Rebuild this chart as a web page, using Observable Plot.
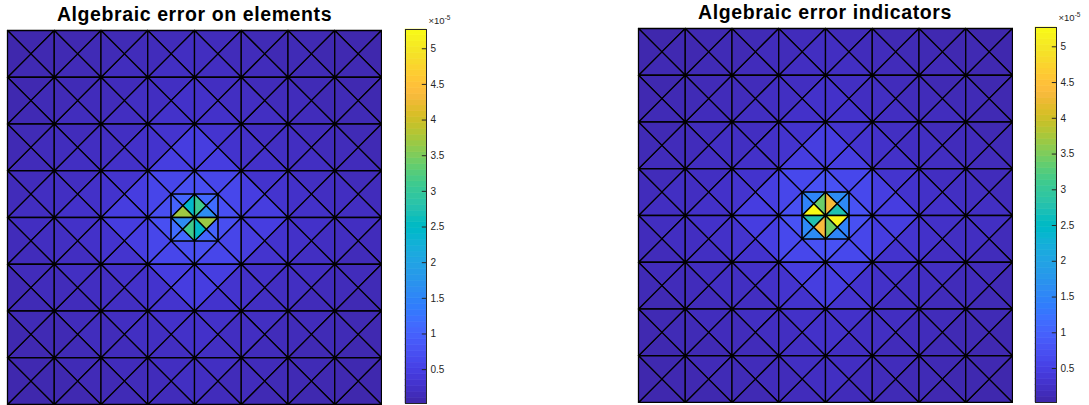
<!DOCTYPE html>
<html>
<head>
<meta charset="utf-8">
<script src="https://cdn.jsdelivr.net/npm/d3@7"></script>
<script src="https://cdn.jsdelivr.net/npm/@observablehq/plot@0.6"></script>
<style>
  html, body { margin: 0; padding: 0; background: #fff; }
  #wrap { position: relative; width: 1089px; height: 405px; overflow: hidden; background: #fff; font-family: "Liberation Sans", Arial, Helvetica, sans-serif; }
  .abs { position: absolute; }
  .title { position: absolute; text-align: center; font-weight: bold; font-size: 19.5px; line-height: 20px; letter-spacing: 0.6px; color: #000; white-space: nowrap; }
  .exp { position: absolute; font-size: 9.5px; line-height: 10px; color: #262626; white-space: nowrap; }
  .exp sup { font-size: 6.5px; vertical-align: 4px; line-height: 0; }
</style>
</head>
<body>
<div id="wrap"></div>
<script>
// ---- colormap (MATLAB parula, 64 entries) ----
const parula = ["#3e26a8","#402ab4","#422ec0","#4332cb","#4537d5","#463cde","#4741e5","#4747eb",
  "#484df0","#4852f4","#4758f8","#465efb","#4563fd","#4269fe","#3e6fff","#3875fe",
  "#327cfc","#2f81fa","#2e87f7","#2d8cf3","#2b91ef","#2797eb","#259be8","#23a0e5",
  "#20a5e3","#1ca9df","#18addb","#12b1d6","#08b5d0","#01b8ca","#02bac3","#0bbdbd",
  "#19bfb6","#24c1ae","#2cc4a7","#31c69f","#37c897","#3fca8e","#4acb84","#57cc7a",
  "#64cd6f","#72cd64","#81cc59","#8fcb4e","#9dc943","#abc739","#b9c431","#c5c22a",
  "#d1bf27","#dcbd29","#e6bb2d","#f0ba36","#f8ba3d","#febe3c","#fec338","#fec934",
  "#fccf30","#fad62d","#f7dc2a","#f5e327","#f5e924","#f6ef20","#f7f51b","#f9fb15"];

// colour limits and colorbar ticks (values x 1e-5)
const cLim = [0.025, 5.27];
const cbTicks = [0.5, 1, 1.5, 2, 2.5, 3, 3.5, 4, 4.5, 5];
const cbExponent = "-5";
const titles = ["Algebraic error on elements", "Algebraic error indicators"];

// mesh: 8 x 8 squares, each cut by both diagonals into triangles [Top, Right, Bottom, Left]
const gridN = 8;
const sides = ["T", "R", "B", "L"];

// per-element error (x 1e-5), rows top -> bottom, columns left -> right, [T,R,B,L]; null = refined
const errElements = [
  [[0.07,0.09,0.10,0.06],[0.09,0.12,0.13,0.10],[0.12,0.15,0.17,0.12],[0.15,0.20,0.21,0.16],[0.16,0.15,0.20,0.19],[0.12,0.11,0.16,0.15],[0.10,0.08,0.12,0.12],[0.07,0.06,0.10,0.09]],
  [[0.09,0.12,0.11,0.08],[0.12,0.16,0.17,0.13],[0.16,0.21,0.20,0.15],[0.21,0.26,0.27,0.20],[0.20,0.21,0.26,0.25],[0.15,0.16,0.21,0.20],[0.12,0.11,0.16,0.16],[0.09,0.08,0.12,0.12]],
  [[0.12,0.16,0.15,0.11],[0.16,0.20,0.21,0.17],[0.21,0.26,0.25,0.20],[0.30,0.46,0.47,0.29],[0.31,0.29,0.46,0.45],[0.20,0.21,0.26,0.25],[0.16,0.15,0.21,0.20],[0.12,0.11,0.16,0.15]],
  [[0.16,0.20,0.19,0.15],[0.20,0.25,0.26,0.21],[0.30,0.46,0.45,0.29],[0.60,null,null,0.58],[0.59,0.61,null,null],[0.29,0.30,0.45,0.46],[0.21,0.20,0.25,0.26],[0.15,0.16,0.20,0.20]],
  [[0.20,0.19,0.16,0.15],[0.25,0.26,0.20,0.21],[0.45,0.46,0.30,0.29],[null,null,0.59,0.60],[null,0.58,0.60,null],[0.46,0.29,0.30,0.45],[0.26,0.20,0.21,0.25],[0.20,0.16,0.15,0.19]],
  [[0.15,0.16,0.12,0.11],[0.21,0.20,0.16,0.15],[0.25,0.26,0.21,0.20],[0.45,0.46,0.30,0.29],[0.47,0.30,0.29,0.46],[0.25,0.20,0.21,0.26],[0.20,0.16,0.15,0.21],[0.16,0.12,0.11,0.15]],
  [[0.12,0.11,0.09,0.08],[0.16,0.17,0.12,0.11],[0.20,0.21,0.16,0.15],[0.26,0.25,0.20,0.21],[0.25,0.20,0.21,0.26],[0.21,0.15,0.16,0.20],[0.16,0.12,0.11,0.15],[0.11,0.09,0.08,0.12]],
  [[0.09,0.08,0.06,0.07],[0.12,0.13,0.09,0.08],[0.16,0.15,0.12,0.11],[0.20,0.21,0.15,0.16],[0.21,0.15,0.16,0.20],[0.15,0.12,0.11,0.16],[0.12,0.09,0.08,0.11],[0.08,0.07,0.06,0.09]]
];
const errIndicators = [
  [[0.06,0.09,0.11,0.07],[0.10,0.12,0.12,0.09],[0.12,0.16,0.16,0.11],[0.16,0.20,0.20,0.15],[0.15,0.16,0.21,0.20],[0.11,0.12,0.15,0.16],[0.09,0.09,0.13,0.11],[0.06,0.07,0.09,0.10]],
  [[0.08,0.11,0.12,0.09],[0.13,0.15,0.16,0.12],[0.15,0.20,0.21,0.16],[0.20,0.27,0.26,0.21],[0.21,0.20,0.27,0.26],[0.16,0.15,0.20,0.21],[0.11,0.12,0.17,0.15],[0.08,0.09,0.11,0.12]],
  [[0.11,0.15,0.16,0.12],[0.17,0.21,0.20,0.16],[0.20,0.25,0.26,0.21],[0.29,0.47,0.46,0.30],[0.30,0.30,0.47,0.46],[0.21,0.20,0.25,0.26],[0.15,0.16,0.20,0.21],[0.11,0.12,0.15,0.16]],
  [[0.15,0.21,0.20,0.16],[0.21,0.26,0.25,0.20],[0.29,0.47,0.46,0.30],[0.62,null,null,0.60],[0.61,0.62,null,null],[0.30,0.29,0.46,0.47],[0.20,0.21,0.26,0.25],[0.16,0.15,0.21,0.19]],
  [[0.19,0.20,0.15,0.16],[0.26,0.25,0.21,0.20],[0.46,0.47,0.29,0.30],[null,null,0.61,0.62],[null,0.60,0.62,null],[0.47,0.30,0.29,0.46],[0.25,0.21,0.20,0.26],[0.21,0.15,0.16,0.20]],
  [[0.16,0.15,0.11,0.12],[0.20,0.21,0.15,0.16],[0.26,0.25,0.20,0.21],[0.46,0.47,0.29,0.30],[0.46,0.29,0.30,0.47],[0.26,0.21,0.20,0.25],[0.21,0.15,0.16,0.20],[0.15,0.11,0.12,0.16]],
  [[0.11,0.12,0.08,0.09],[0.17,0.16,0.11,0.12],[0.21,0.20,0.15,0.16],[0.25,0.26,0.21,0.20],[0.26,0.21,0.20,0.25],[0.20,0.16,0.15,0.21],[0.15,0.11,0.12,0.16],[0.12,0.08,0.09,0.11]],
  [[0.08,0.09,0.07,0.06],[0.13,0.12,0.08,0.09],[0.15,0.16,0.11,0.12],[0.21,0.20,0.16,0.15],[0.20,0.16,0.15,0.21],[0.16,0.11,0.12,0.15],[0.11,0.08,0.09,0.12],[0.09,0.06,0.07,0.08]]
];

// refined triangles touching the centre vertex: [column, row, side]
// each is bisected twice -> values [outer piece, square-corner piece, inner (diamond) piece]
const refinedTris = [[3,3,"R"],[3,3,"B"],[4,3,"L"],[4,3,"B"],[3,4,"T"],[3,4,"R"],[4,4,"T"],[4,4,"L"]];
const refElements   = [[0.72,1.05,2.45],[0.70,1.00,3.70],[0.71,1.10,3.10],[0.73,1.15,1.62],[0.73,1.15,1.60],[0.71,1.10,3.12],[0.70,1.00,3.68],[0.72,1.05,2.47]];
const refIndicators = [[0.76,1.50,3.40],[0.74,1.45,5.27],[0.75,1.60,4.32],[0.77,1.55,2.73],[0.77,1.55,2.75],[0.75,1.60,4.35],[0.74,1.45,5.20],[0.76,1.50,3.42]];

// ---------- build ----------
const parulaInterp = d3.piecewise(d3.interpolateRgb, parula);
const colorScale = {type: "linear", domain: cLim, interpolate: (t) => parulaInterp(Math.max(0, Math.min(1, t)))};
const fontFamily = '"Liberation Sans", Arial, Helvetica, sans-serif';

function triPts(c, r, s) {
  const P = [c + 0.5, r + 0.5], TL = [c, r], TR = [c + 1, r], BR = [c + 1, r + 1], BL = [c, r + 1];
  const e = {T: [TL, TR], R: [TR, BR], B: [BR, BL], L: [BL, TL]}[s];
  return [e[0], e[1], P];
}
function poly(pts, v) {
  return {type: "Feature", properties: {v}, geometry: {type: "Polygon", coordinates: [[...pts, pts[0]]]}};
}
function meshFeatures(cells, refined) {
  const feats = [];
  cells.forEach((row, r) => row.forEach((vals, c) => vals.forEach((v, si) => {
    if (v != null) feats.push(poly(triPts(c, r, sides[si]), v));
  })));
  const C = [gridN / 2, gridN / 2];
  refinedTris.forEach(([c, r, s], k) => {
    const [a, b, P] = triPts(c, r, s);
    const Q = (a[0] === C[0] && a[1] === C[1]) ? b : a;
    const M = [(C[0] + Q[0]) / 2, (C[1] + Q[1]) / 2];
    const N = [(P[0] + C[0]) / 2, (P[1] + C[1]) / 2];
    const [vo, vc, vi] = refined[k];
    feats.push(poly([P, Q, M], vo), poly([P, M, N], vc), poly([M, C, N], vi));
  });
  return feats;
}
const outline = {type: "Polygon", coordinates: [[[0,0],[gridN,0],[gridN,gridN],[0,gridN],[0,0]]]};

function meshPlot(cells, refined) {
  return Plot.plot({
    width: 376, height: 376, margin: 1,
    projection: {type: "identity", domain: outline},
    color: colorScale,
    marks: [
      Plot.geo(meshFeatures(cells, refined), {fill: (d) => d.properties.v, stroke: "#000", strokeWidth: 1.3, strokeLinejoin: "round"})
    ]
  });
}

function colorbar(h) {
  const n = parula.length, step = (cLim[1] - cLim[0]) / n;
  const bands = d3.range(n).map((i) => ({y1: cLim[0] + i * step, y2: cLim[0] + (i + 1) * step, v: cLim[0] + (i + 0.5) * step}));
  return Plot.plot({
    width: 62, height: h, marginLeft: 1, marginRight: 40, marginTop: 1, marginBottom: 1,
    x: {domain: [0, 1], axis: null},
    y: {domain: cLim},
    color: colorScale,
    style: {fontFamily, fontSize: "10px", color: "#262626", background: "transparent"},
    marks: [
      Plot.rect(bands, {x1: 0, x2: 1, y1: "y1", y2: "y2", fill: "v", stroke: "v", strokeWidth: 0.6}),
      Plot.ruleY(cbTicks, {x1: 0.8, x2: 1, stroke: "#262626", strokeWidth: 1}),
      Plot.axisY({anchor: "right", ticks: cbTicks, tickSize: 0, tickPadding: 4, label: null, tickFormat: (d) => String(d), fill: "#262626"}),
      Plot.frame({stroke: "#262626", strokeWidth: 1})
    ]
  });
}

const wrap = document.getElementById("wrap");
function place(el, left, top) {
  el.classList.add("abs");
  el.style.left = left + "px";
  el.style.top = top + "px";
  wrap.appendChild(el);
}
function addTitle(text, cx, top) {
  const d = document.createElement("div");
  d.className = "title";
  d.textContent = text;
  d.style.left = (cx - 200) + "px";
  d.style.width = "400px";
  d.style.top = top + "px";
  wrap.appendChild(d);
}
function addExp(left, top) {
  const d = document.createElement("div");
  d.className = "exp";
  d.innerHTML = "\u00d710<sup>" + cbExponent + "</sup>";
  d.style.left = left + "px";
  d.style.top = top + "px";
  wrap.appendChild(d);
}

// left panel
place(meshPlot(errElements, refElements), 6.3, 28.7);
place(colorbar(376), 404, 28.3);
addTitle(titles[0], 194.5, 4.2);
addExp(428.5, 16);

// right panel
place(meshPlot(errIndicators, refIndicators), 636.7, 26.7);
place(colorbar(377), 1034, 26.3);
addTitle(titles[1], 825, 1.5);
addExp(1058.5, 13);
</script>
</body>
</html>
